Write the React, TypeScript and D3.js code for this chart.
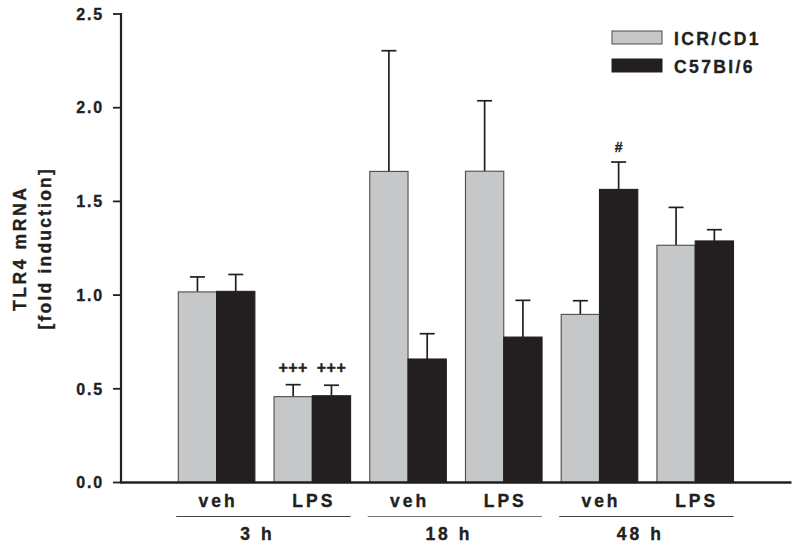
import React from "react";
import * as d3 from "d3";

const timeGroups = ["3 h", "18 h", "48 h"];
const treatments = ["veh", "LPS", "veh", "LPS", "veh", "LPS"];
const pairGroup = [0, 0, 1, 1, 2, 2];
const seriesNames = ["ICR/CD1", "C57BI/6"];
const icrMeans = [1.017, 0.458, 1.66, 1.661, 0.897, 1.266];
const icrErrors = [0.08, 0.064, 0.644, 0.376, 0.073, 0.202];
const c57Means = [1.02, 0.463, 0.659, 0.776, 1.564, 1.289];
const c57Errors = [0.09, 0.056, 0.135, 0.196, 0.146, 0.06];
const icrMarks = ["", "+++", "", "", "", ""];
const c57Marks = ["", "+++", "", "", "#", ""];
const yTicks = [0, 0.5, 1.0, 1.5, 2.0, 2.5];

const W = 800;
const H = 549;
const FONT = "'Liberation Sans', Arial, Helvetica, sans-serif";
const GRAY = "#c6c7c9";
const BLACK = "#231f20";
const OUTLINE = "#4d4d4f";

const boldText = { fontWeight: "bold" as const, fill: BLACK, stroke: BLACK, strokeWidth: 0.35 };

export default function App() {
  const x = d3
    .scaleBand<number>()
    .domain(d3.range(treatments.length))
    .range([178.3, 733.5])
    .paddingInner(0.2)
    .paddingOuter(0);
  const inner = d3
    .scaleBand<number>()
    .domain([0, 1])
    .range([0, x.bandwidth()])
    .padding(0);
  const y = d3.scaleLinear().domain([0, 2.5]).range([482.5, 14]);
  const axisX = 121;
  const baseY = y(0);

  const series = [
    { means: icrMeans, errs: icrErrors, marks: icrMarks, fill: GRAY, stroke: OUTLINE },
    { means: c57Means, errs: c57Errors, marks: c57Marks, fill: BLACK, stroke: BLACK },
  ];

  const capW = 15;

  return (
    <svg
      width={W}
      height={H}
      viewBox={`0 0 ${W} ${H}`}
      style={{ position: "absolute", left: 0, top: 0, background: "#fff" }}
      fontFamily={FONT}
    >
      <rect x={0} y={0} width={W} height={H} fill="#fff" />
      {/* bars */}
      {series.map((s, si) =>
        s.means.map((m, i) => {
          const bx = (x(i) as number) + (inner(si) as number);
          const bw = inner.bandwidth();
          const cx = bx + bw / 2;
          const top = y(m);
          const et = y(m + s.errs[i]);
          const mk = s.marks[i];
          return (
            <g key={`b${si}-${i}`}>
              <line x1={cx} x2={cx} y1={top} y2={et} stroke={BLACK} strokeWidth={1.7} />
              <line x1={cx - capW / 2} x2={cx + capW / 2} y1={et} y2={et} stroke={BLACK} strokeWidth={1.7} />
              <rect
                x={bx}
                y={top}
                width={bw}
                height={baseY - top}
                fill={s.fill}
                stroke={s.stroke}
                strokeWidth={1.1}
              />
              {mk ? (
                <text
                  x={cx}
                  y={et - (mk === "#" ? 10 : 12)}
                  textAnchor="middle"
                  fontSize={mk === "#" ? 14 : 16}
                  letterSpacing={mk === "#" ? 0 : 0.5}
                  {...boldText}
                >
                  {mk}
                </text>
              ) : null}
            </g>
          );
        })
      )}

      {/* y axis */}
      <line x1={axisX} x2={axisX} y1={y(2.5) - 1} y2={baseY} stroke={BLACK} strokeWidth={2.2} />
      {yTicks.map((t) => (
        <g key={`t${t}`}>
          <line x1={axisX - 8} x2={axisX} y1={y(t)} y2={y(t)} stroke={BLACK} strokeWidth={1.8} />
          <text
            x={104}
            y={y(t)}
            dy="0.36em"
            textAnchor="end"
            fontSize={16}
            letterSpacing={1.8}
            {...boldText}
          >
            {d3.format(".1f")(t)}
          </text>
        </g>
      ))}
      {/* baseline */}
      <line x1={axisX - 1} x2={791.5} y1={baseY} y2={baseY} stroke={BLACK} strokeWidth={2.6} />

      {/* y title */}
      <g transform={`translate(0, ${(y(0) + y(2.5)) / 2}) rotate(-90)`}>
        <text x={0} y={26} textAnchor="middle" fontSize={17.5} letterSpacing={2.6} {...boldText}>
          TLR4 mRNA
        </text>
        <text x={0} y={51} textAnchor="middle" fontSize={17.5} letterSpacing={2.2} {...boldText}>
          [fold induction]
        </text>
      </g>

      {/* treatment labels */}
      {treatments.map((t, i) => (
        <text
          key={`tr${i}`}
          x={(x(i) as number) + x.bandwidth() / 2 + 1.5}
          y={507}
          textAnchor="middle"
          fontSize={17.5}
          letterSpacing={3}
          {...boldText}
        >
          {t}
        </text>
      ))}

      {/* group lines and labels */}
      {timeGroups.map((g, gi) => {
        const idx = pairGroup.map((p, i) => (p === gi ? i : -1)).filter((v) => v >= 0);
        const x0 = (x(idx[0]) as number) - 2;
        const x1 = (x(idx[idx.length - 1]) as number) + x.bandwidth();
        return (
          <g key={`g${gi}`}>
            <line x1={x0} x2={x1} y1={516.5} y2={516.5} stroke={gi === 1 ? "#777" : "#444"} strokeWidth={1.2} />
            <text
              x={(x0 + x1) / 2 - 6}
              y={540}
              textAnchor="middle"
              fontSize={17.5}
              letterSpacing={3}
              {...boldText}
            >
              {g}
            </text>
          </g>
        );
      })}

      {/* legend */}
      {seriesNames.map((n, i) => (
        <g key={`l${i}`}>
          <rect
            x={612}
            y={31 + i * 28}
            width={50}
            height={13}
            fill={series[i].fill}
            stroke={series[i].stroke}
            strokeWidth={1}
          />
          <text x={674} y={45 + i * 28} fontSize={17.5} letterSpacing={2.4} {...boldText}>
            {n}
          </text>
        </g>
      ))}
    </svg>
  );
}
